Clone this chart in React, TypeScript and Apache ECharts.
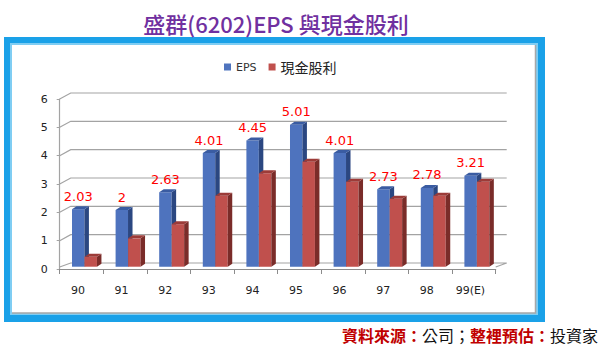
import React, { useEffect, useRef } from "react";
import * as echarts from "echarts";

const years = ["90", "91", "92", "93", "94", "95", "96", "97", "98", "99(E)"];
const eps = [2.03, 2, 2.63, 4.01, 4.45, 5.01, 4.01, 2.73, 2.78, 3.21];
const cashDividend = [0.35, 1.0, 1.5, 2.5, 3.3, 3.7, 3.0, 2.4, 2.5, 3.0];
const yTicks = [0, 1, 2, 3, 4, 5, 6];
const seriesNames = ["EPS", "現金股利"];
const titleText = "盛群(6202)EPS 與現金股利";

const LATIN = '"DejaVu Sans", Verdana, sans-serif';
const CJK = '"Noto Sans CJK TC", "Noto Sans", sans-serif';

function barRenderer(
  front: string,
  side: string,
  topc: string,
  leftFrac: number,
  showLabel: boolean
) {
  return (params: any, api: any) => {
    const i = api.value(0);
    const v = api.value(1);
    const top = api.coord([i, v]);
    const base = api.coord([i, 0]);
    const bw = api.size([1, 0])[0];
    const w = 0.285 * bw;
    const x0 = top[0] + leftFrac * bw;
    const yT = top[1] - 2.3;
    const yB = base[1] - 2.3;
    const dx = 4.5;
    const dy = 3;
    const children: any[] = [
      {
        type: "rect",
        shape: { x: x0, y: yT, width: w, height: yB - yT },
        style: { fill: front },
      },
      {
        type: "polygon",
        shape: {
          points: [
            [x0 + w, yT],
            [x0 + w + dx, yT - dy],
            [x0 + w + dx, yB - dy],
            [x0 + w, yB],
          ],
        },
        style: { fill: side },
      },
      {
        type: "polygon",
        shape: {
          points: [
            [x0, yT],
            [x0 + dx, yT - dy],
            [x0 + w + dx, yT - dy],
            [x0 + w, yT],
          ],
        },
        style: { fill: topc },
      },
    ];
    if (showLabel) {
      children.push({
        type: "text",
        x: x0 + w / 2,
        y: yT - 13,
        style: {
          text: String(v),
          fill: "#FF0000",
          fontSize: 13,
          fontFamily: LATIN,
          align: "center",
          verticalAlign: "middle",
        },
      });
    }
    return { type: "group", children };
  };
}

function gridRenderer(params: any, api: any) {
  const v = api.value(1);
  const bw = api.size([1, 0])[0];
  const p0 = api.coord([0, v]);
  const p1 = api.coord([years.length - 1, v]);
  const left = p0[0] - bw / 2;
  const right = p1[0] + bw / 2;
  const y = p0[1];
  const pts =
    v === 0
      ? [
          [left, y - 2],
          [left + 11, y - 6],
          [right + 11, y - 6],
          [right, y - 2],
        ]
      : [
          [left, y],
          [left + 11, y - 6],
          [right + 11, y - 6],
        ];
  return {
    type: "polyline",
    shape: { points: pts },
    style: { stroke: "#A3A3A3", lineWidth: 1.2, fill: "none" },
  };
}

export default function App() {
  const ref = useRef<HTMLDivElement>(null);

  useEffect(() => {
    document.body.style.margin = "0";
    const chart = echarts.init(ref.current!, undefined, { renderer: "svg" });
    const option: any = {
      animation: false,
      backgroundColor: "#ffffff",
      graphic: [
        {
          type: "rect",
          z: -10,
          shape: { x: 4, y: 37, width: 541, height: 285 },
          style: { fill: "#1AA1E8" },
        },
        {
          type: "rect",
          z: -9,
          shape: { x: 10, y: 43, width: 528, height: 272 },
          style: { fill: "#7FCDF3" },
        },
        {
          type: "rect",
          z: -8,
          shape: { x: 12, y: 45, width: 524, height: 268 },
          style: { fill: "#ffffff" },
        },
        {
          type: "polyline",
          z: -7,
          shape: {
            points: [
              [12, 313],
              [535.5, 313],
              [535.5, 45],
            ],
          },
          style: { stroke: "#A8A8A8", lineWidth: 1.5, fill: "none" },
        },
        {
          type: "text",
          x: 276,
          y: 23,
          style: {
            text: titleText,
            fill: "#7030A0",
            fontSize: 22,
            fontWeight: 500,
            fontFamily: CJK,
            align: "center",
            verticalAlign: "middle",
          },
        },
        {
          type: "text",
          x: 598,
          y: 335,
          style: {
            text: "{r|資料來源：}{k|公司；}{r|整裡預估：}{k|投資家}",
            align: "right",
            verticalAlign: "middle",
            rich: {
              r: {
                fill: "#C00000",
                fontSize: 16,
                fontWeight: "bold",
                fontFamily: CJK,
              },
              k: {
                fill: "#111111",
                fontSize: 16,
                fontFamily: CJK,
              },
            },
          },
        },
      ],
      legend: {
        data: seriesNames,
        left: 219,
        top: 55,
        icon: "rect",
        itemWidth: 7,
        itemHeight: 7,
        itemGap: 12,
        formatter: (name: string) =>
          name === "EPS" ? `{a|${name}}` : `{b|${name}}`,
        textStyle: {
          rich: {
            a: { fontSize: 11, fontFamily: LATIN, color: "#333333" },
            b: { fontSize: 14, fontFamily: CJK, color: "#222222" },
          },
        },
      },
      grid: { left: 59.7, right: 104.3, top: 99, bottom: 85 },
      xAxis: {
        type: "category",
        data: years,
        axisLine: { lineStyle: { color: "#8C8C8C", width: 1.2 } },
        axisTick: { show: true, length: 5, lineStyle: { color: "#8C8C8C" } },
        axisLabel: {
          margin: 16,
          fontSize: 11,
          fontFamily: LATIN,
          color: "#222222",
          padding: [0, 7, 0, 0],
        },
        splitLine: { show: false },
      },
      yAxis: {
        type: "value",
        min: 0,
        max: 6,
        interval: 1,
        axisLine: { show: true, lineStyle: { color: "#A3A3A3", width: 1.2 } },
        axisTick: { show: true, length: 3, lineStyle: { color: "#A3A3A3" } },
        axisLabel: {
          margin: 12,
          fontSize: 11,
          fontFamily: LATIN,
          color: "#222222",
        },
        splitLine: { show: false },
      },
      series: [
        {
          name: "grid",
          type: "custom",
          silent: true,
          renderItem: gridRenderer,
          encode: { x: 0, y: 1 },
          data: yTicks.map((v) => [0, v]),
          z: 1,
        },
        {
          name: seriesNames[0],
          type: "custom",
          color: "#4F74BE",
          itemStyle: { color: "#4F74BE" },
          renderItem: barRenderer("#4E73BE", "#2B4781", "#3A5CA2", -0.218, true),
          encode: { x: 0, y: 1 },
          data: eps.map((v, i) => [i, v]),
          z: 2,
        },
        {
          name: seriesNames[1],
          type: "custom",
          color: "#C0504D",
          itemStyle: { color: "#C0504D" },
          renderItem: barRenderer("#C0504D", "#7A2C29", "#9C3B38", 0.069, false),
          encode: { x: 0, y: 1 },
          data: cashDividend.map((v, i) => [i, v]),
          z: 3,
        },
      ],
    };
    chart.setOption(option);
    return () => chart.dispose();
  }, []);

  return (
    <div
      ref={ref}
      style={{ position: "fixed", left: 0, top: 0, width: 600, height: 354 }}
    />
  );
}
